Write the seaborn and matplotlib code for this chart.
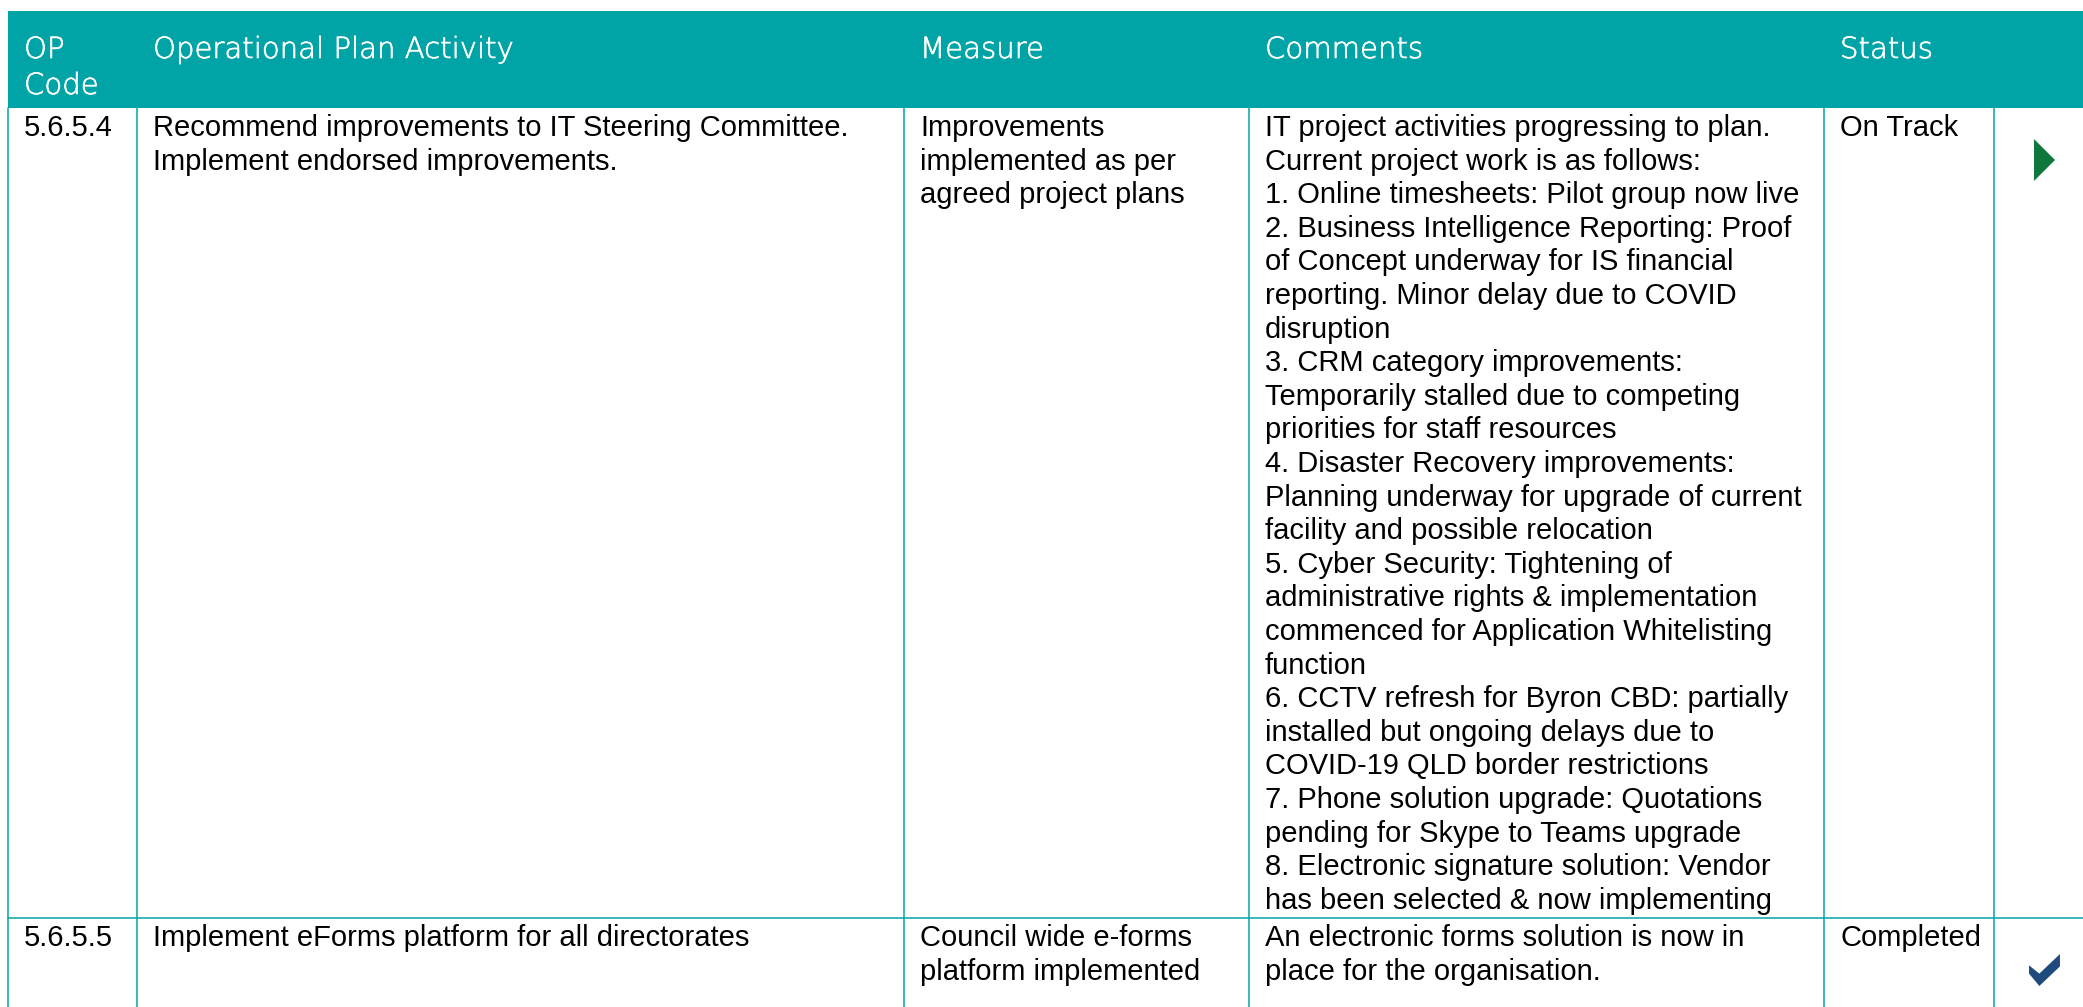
#!/usr/bin/env python3
"""Operational plan status table redrawn with matplotlib + seaborn."""

import matplotlib.patheffects as pe
import matplotlib.pyplot as plt
import numpy as np
import pandas as pd
import seaborn as sns
from matplotlib.patches import Rectangle
from matplotlib.path import Path

HEADERS = [["OP", "Code"], ["Operational Plan Activity"], ["Measure"], ["Comments"], ["Status"], []]

OP_CODES = ["5.6.5.4", "5.6.5.5"]
ACTIVITIES = [
    ["Recommend improvements to IT Steering Committee.", "Implement endorsed improvements."],
    ["Implement eForms platform for all directorates"],
]
MEASURES = [
    ["Improvements", "implemented as per", "agreed project plans"],
    ["Council wide e-forms", "platform implemented"],
]
COMMENTS = [
    [
        "IT project activities progressing to plan.",
        "Current project work is as follows:",
        "1. Online timesheets: Pilot group now live",
        "2. Business Intelligence Reporting: Proof",
        "of Concept underway for IS financial",
        "reporting. Minor delay due to COVID",
        "disruption",
        "3. CRM category improvements:",
        "Temporarily stalled due to competing",
        "priorities for staff resources",
        "4. Disaster Recovery improvements:",
        "Planning underway for upgrade of current",
        "facility and possible relocation",
        "5. Cyber Security: Tightening of",
        "administrative rights & implementation",
        "commenced for Application Whitelisting",
        "function",
        "6. CCTV refresh for Byron CBD: partially",
        "installed but ongoing delays due to",
        "COVID-19 QLD border restrictions",
        "7. Phone solution upgrade: Quotations",
        "pending for Skype to Teams upgrade",
        "8. Electronic signature solution: Vendor",
        "has been selected & now implementing",
    ],
    ["An electronic forms solution is now in", "place for the organisation."],
]
STATUSES = ["On Track", "Completed"]

# layout (pixel units, y downwards)
W, H = 2083, 1007
COL_EDGES = [8, 137, 904, 1249, 1824, 1994, W]
HEADER_TOP, HEADER_BOTTOM = 11, 108
ROW_EDGES = [HEADER_BOTTOM, 918, H + 5]
TEXT_PAD = 16
LINE_STEP = 33.6

TEAL = "#00A4A7"
STATUS_COLORS = {"On Track": "#0E773B", "Completed": "#1F4A7E"}

# icon shapes
TRIANGLE = Path([(-0.5, 1.0), (0.5, 0.0), (-0.5, -1.0), (-0.5, 1.0)], closed=True)
_check = np.array([(0, 11), (10, 19), (30, 0), (30, 12), (10, 31), (0, 19), (0, 11)], float)
_check[:, 0] -= 15
_check[:, 1] = 15.5 - _check[:, 1]
CHECK = Path(_check, closed=True)
STATUS_MARKERS = {"On Track": TRIANGLE, "Completed": CHECK}
STATUS_SIZES = {"On Track": 30.2 ** 2, "Completed": 23 ** 2}


def draw_lines(ax, x0, y0, lines, step, **kw):
    for i, line in enumerate(lines):
        ax.text(x0, y0 + i * step, line, va="baseline", ha="left", **kw)


def main() -> None:
    sns.set_theme(style="white")
    plt.rcParams["font.family"] = ["Liberation Sans", "DejaVu Sans"]

    fig = plt.figure(figsize=(W / 100, H / 100), dpi=100)
    ax = fig.add_axes([0, 0, 1, 1])
    ax.set_xlim(0, W)
    ax.set_ylim(H, 0)
    ax.axis("off")

    # header band
    ax.add_patch(Rectangle((COL_EDGES[0], HEADER_TOP), W - COL_EDGES[0],
                           HEADER_BOTTOM - HEADER_TOP, color=TEAL, lw=0))
    thicken = [pe.withStroke(linewidth=0.45, foreground="white")]
    for left, lines in zip(COL_EDGES[:-1], HEADERS):
        draw_lines(ax, left + TEXT_PAD, 58, lines, 36, color="white", fontsize=21,
                   family=["DejaVu Sans"], fontweight="light", path_effects=thicken)

    # grid lines
    for x in COL_EDGES[:-1]:
        ax.plot([x, x], [HEADER_BOTTOM, H + 5], color=TEAL, lw=1.1)
    for y in ROW_EDGES[1:-1]:
        ax.plot([COL_EDGES[0], W], [y, y], color=TEAL, lw=1.1)

    # body cells
    body_kw = dict(color="black", fontsize=21)
    for r in range(len(OP_CODES)):
        base = ROW_EDGES[r] + 28
        cells = [[OP_CODES[r]], ACTIVITIES[r], MEASURES[r], COMMENTS[r], [STATUSES[r]]]
        for left, lines in zip(COL_EDGES[:-2], cells):
            draw_lines(ax, left + TEXT_PAD, base, lines, LINE_STEP, **body_kw)

    # status icons
    icons = pd.DataFrame({
        "status": STATUSES,
        "x": [(COL_EDGES[5] + COL_EDGES[6]) / 2 + 6] * len(STATUSES),
        "y": [ROW_EDGES[r] + 52 for r in range(len(STATUSES))],
    })
    sns.scatterplot(data=icons, x="x", y="y", hue="status", palette=STATUS_COLORS,
                    style="status", markers=STATUS_MARKERS, size="status",
                    sizes=STATUS_SIZES, linewidth=0, legend=False, ax=ax)
    ax.set_xlim(0, W)
    ax.set_ylim(H, 0)
    ax.axis("off")

    fig.savefig("out.png", dpi=100)
    plt.close(fig)


if __name__ == "__main__":
    main()
